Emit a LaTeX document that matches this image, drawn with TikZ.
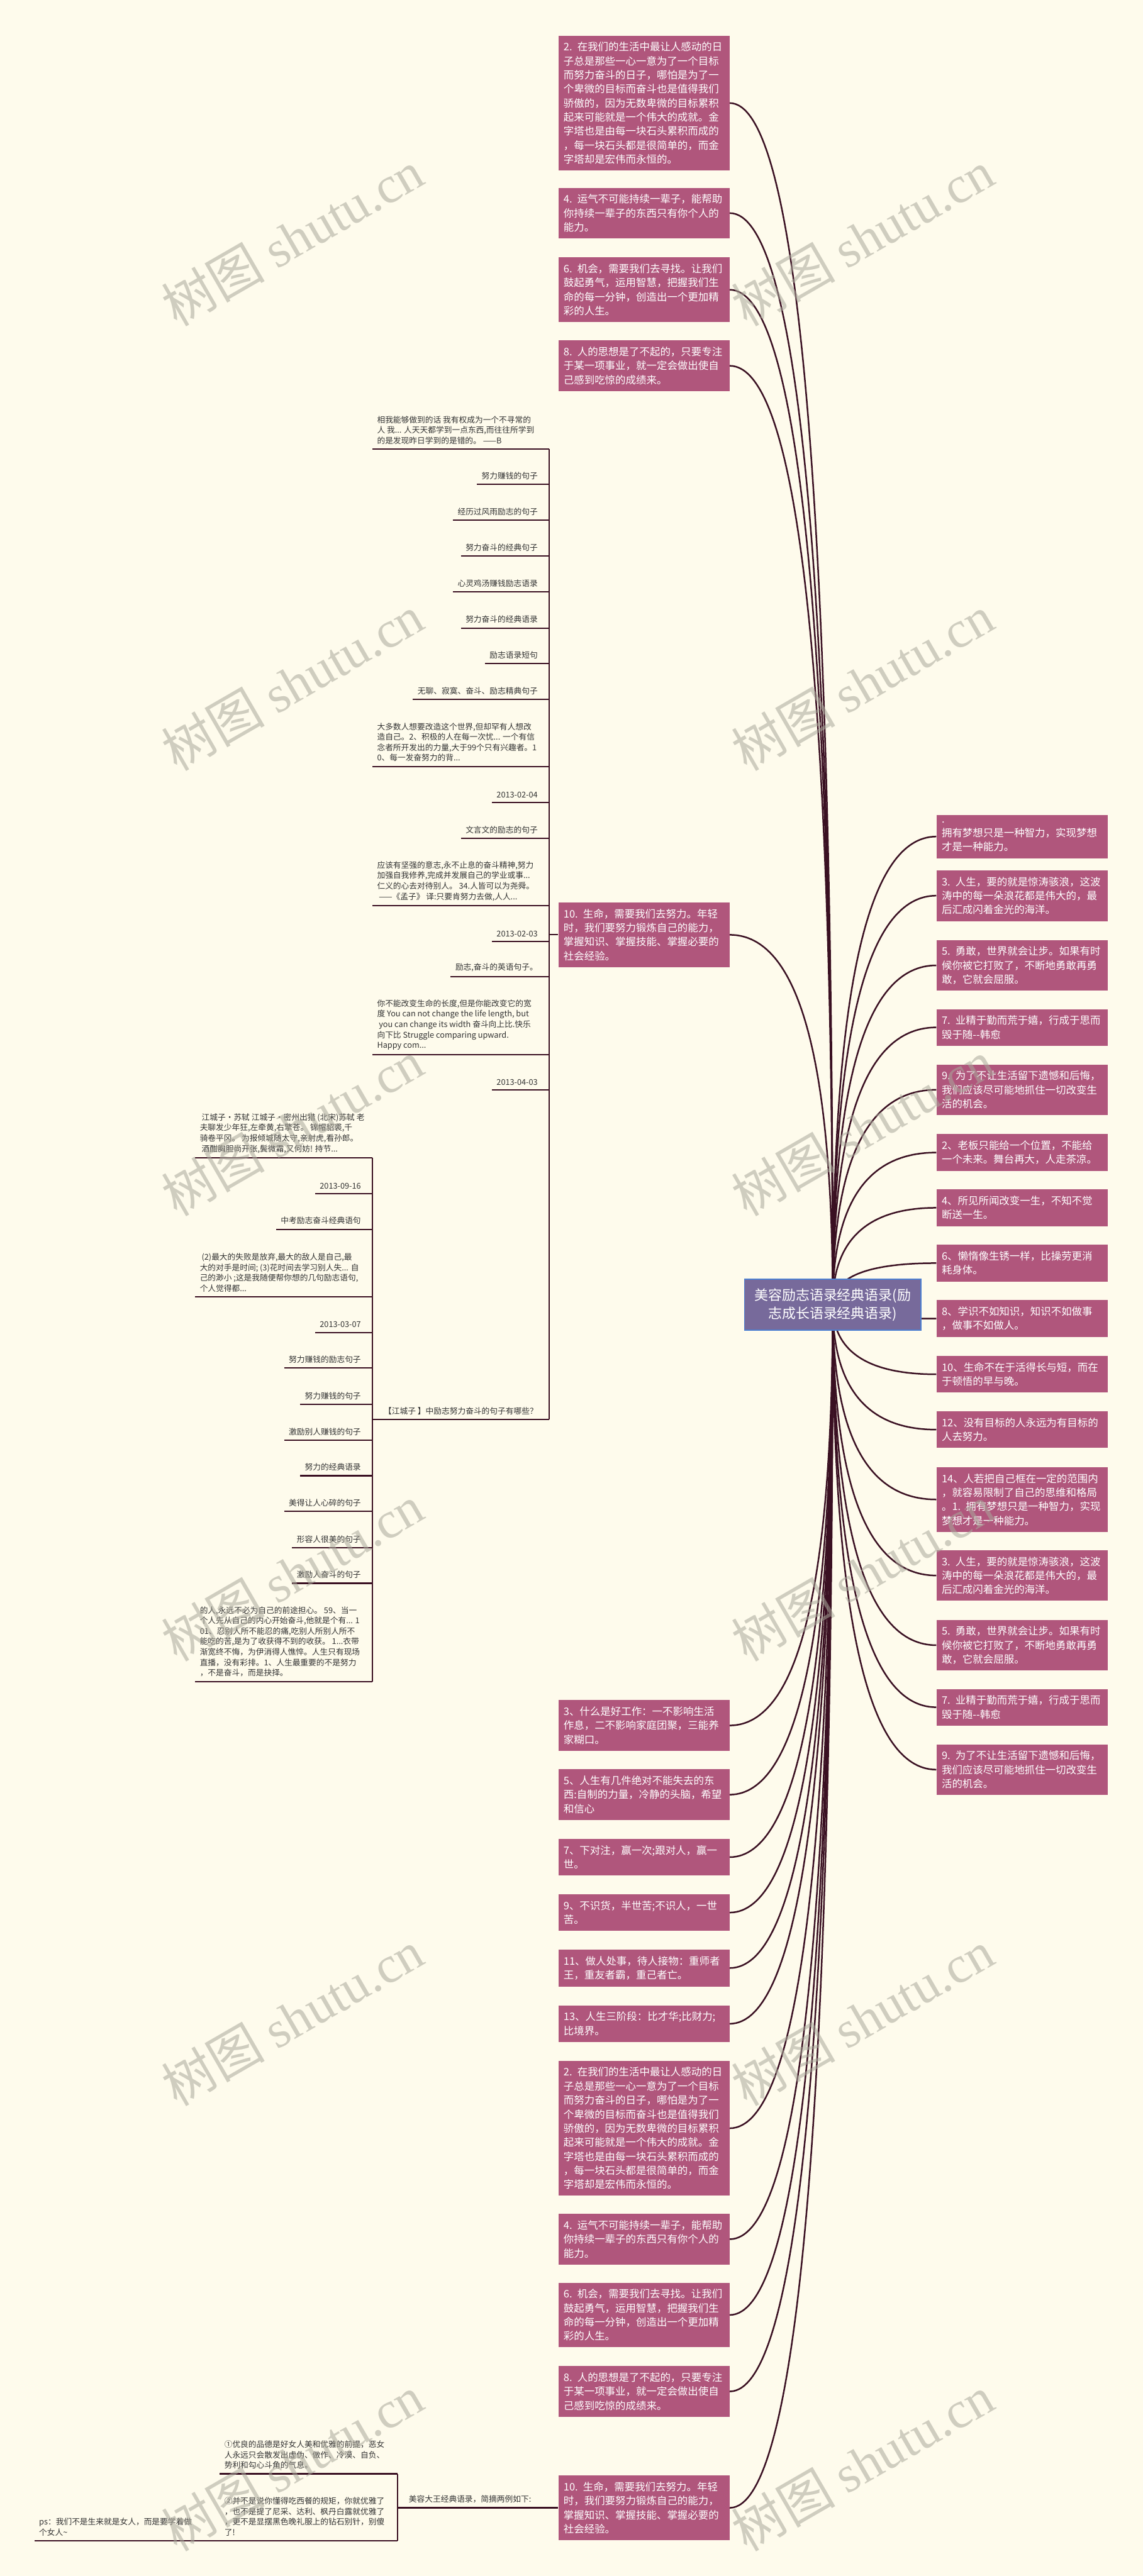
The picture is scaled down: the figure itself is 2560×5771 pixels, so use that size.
\documentclass[tikz,border=0pt]{standalone}
\usepackage{fontspec}
\setmainfont{Noto Sans CJK SC}
\newfontfamily\wmlatin{Liberation Serif}
\usepackage{tikz}
\usetikzlibrary{calc, backgrounds}
\definecolor{paper}{RGB}{254,251,236}
\definecolor{quotepurple}{RGB}{176,86,124}
\definecolor{rootviolet}{RGB}{119,106,155}
\definecolor{rootblue}{RGB}{77,127,209}
\definecolor{linkmaroon}{RGB}{58,16,34}
\definecolor{leafgray}{RGB}{51,51,51}
\definecolor{wmgray}{RGB}{170,168,155}
\newcommand\quotefont{\fontsize{6.6pt}{8.96pt}\selectfont}
\newcommand\leaffont{\fontsize{5.1pt}{6.65pt}\selectfont}
\newcommand\rootfont{\fontsize{8.8pt}{11.85pt}\selectfont}
% quotes that appear twice
\newcommand\qtwo{2. 在我们的生活中最让人感动的日\\子总是那些一心一意为了一个目标\\而努力奋斗的日子，哪怕是为了一\\个卑微的目标而奋斗也是值得我们\\骄傲的，因为无数卑微的目标累积\\起来可能就是一个伟大的成就。金\\字塔也是由每一块石头累积而成的\\，每一块石头都是很简单的，而金\\字塔却是宏伟而永恒的。}
\newcommand\qfour{4. 运气不可能持续一辈子，能帮助\\你持续一辈子的东西只有你个人的\\能力。}
\newcommand\qsix{6. 机会，需要我们去寻找。让我们\\鼓起勇气，运用智慧，把握我们生\\命的每一分钟，创造出一个更加精\\彩的人生。}
\newcommand\qeight{8. 人的思想是了不起的，只要专注\\于某一项事业，就一定会做出使自\\己感到吃惊的成绩来。}
\newcommand\qten{10. 生命，需要我们去努力。年轻\\时，我们要努力锻炼自己的能力，\\掌握知识、掌握技能、掌握必要的\\社会经验。}
\newcommand\qthree{3. 人生，要的就是惊涛骇浪，这波\\涛中的每一朵浪花都是伟大的，最\\后汇成闪着金光的海洋。}
\newcommand\qfive{5. 勇敢，世界就会让步。如果有时\\候你被它打败了，不断地勇敢再勇\\敢，它就会屈服。}
\newcommand\qseven{7. 业精于勤而荒于嬉，行成于思而\\毁于随-{}-韩愈}
\newcommand\qnine{9. 为了不让生活留下遗憾和后悔，\\我们应该尽可能地抓住一切改变生\\活的机会。}

\begin{document}
\begin{tikzpicture}[
    x=0.1mm, y=-0.1mm,
    rootbox/.style={rectangle, fill=rootviolet, draw=rootblue, line width=0.6pt, text=white, font=\rootfont, align=center, minimum width=39.5mm, minimum height=11.4mm},
    qbox/.style={rectangle, anchor=north west, fill=quotepurple, text=white, font=\quotefont, align=left, text width=36mm, inner xsep=1.15mm, inner ysep=1.45mm},
    leafitem/.style={font=\leaffont, text=leafgray, align=left, inner xsep=1mm, inner ysep=1mm},
    rleaf/.style={leafitem, anchor=south east},
    mleaf/.style={leafitem, anchor=south west},
    curvelink/.style={draw=linkmaroon, line width=1pt},
    stemline/.style={draw=linkmaroon, line width=0.85pt},
    wmark/.style={text=wmgray, opacity=0.55, rotate=30, font=\fontsize{33pt}{33pt}\selectfont}
]
\useasboundingbox (0,0) rectangle (2560,5771);

% Centre topic
\node[rootbox] (root) at (1865,2923) {美容励志语录经典语录(励\\志成长语录经典语录)};

% Quotes, upper left
\node[qbox] (a2) at (1250,79) {\qtwo};
\node[qbox] (a4) at (1250,420) {\qfour};
\node[qbox] (a6) at (1250,576) {\qsix};
\node[qbox] (a8) at (1250,762) {\qeight};
\node[qbox] (a10) at (1250,2021) {\qten};

% Quotes, lower left
\node[qbox] (b3) at (1250,3808) {3、什么是好工作：一不影响生活\\作息，二不影响家庭团聚，三能养\\家糊口。};
\node[qbox] (b5) at (1250,3963) {5、人生有几件绝对不能失去的东\\西:自制的力量，冷静的头脑，希望\\和信心};
\node[qbox] (b7) at (1250,4119) {7、下对注，赢一次;跟对人，赢一\\世。};
\node[qbox] (b9) at (1250,4243) {9、不识货，半世苦;不识人，一世\\苦。};
\node[qbox] (b11) at (1250,4367) {11、做人处事，待人接物：重师者\\王，重友者霸，重己者亡。};
\node[qbox] (b13) at (1250,4492) {13、人生三阶段：比才华;比财力;\\比境界。};
\node[qbox] (c2) at (1250,4616) {\qtwo};
\node[qbox] (c4) at (1250,4959) {\qfour};
\node[qbox] (c6) at (1250,5113) {\qsix};
\node[qbox] (c8) at (1250,5300) {\qeight};
\node[qbox] (c10) at (1250,5545) {\qten};

% Quotes, right
\node[qbox] (r1) at (2097,1825) {. 拥有梦想只是一种智力，实现梦想\\才是一种能力。};
\node[qbox] (r3) at (2097,1949) {\qthree};
\node[qbox] (r5) at (2097,2105) {\qfive};
\node[qbox] (r7) at (2097,2260) {\qseven};
\node[qbox] (r9) at (2097,2384) {\qnine};
\node[qbox] (s2) at (2097,2540) {2、老板只能给一个位置，不能给\\一个未来。舞台再大，人走茶凉。};
\node[qbox] (s4) at (2097,2664) {4、所见所闻改变一生，不知不觉\\断送一生。};
\node[qbox] (s6) at (2097,2788) {6、懒惰像生锈一样，比操劳更消\\耗身体。};
\node[qbox] (s8) at (2097,2912) {8、学识不如知识，知识不如做事\\，做事不如做人。};
\node[qbox] (s10) at (2097,3037) {10、生命不在于活得长与短，而在\\于顿悟的早与晚。};
\node[qbox] (s12) at (2097,3161) {12、没有目标的人永远为有目标的\\人去努力。};
\node[qbox] (s14) at (2097,3286) {14、人若把自己框在一定的范围内\\，就容易限制了自己的思维和格局\\。1. 拥有梦想只是一种智力，实现\\梦想才是一种能力。};
\node[qbox] (t3) at (2097,3472) {\qthree};
\node[qbox] (t5) at (2097,3628) {\qfive};
\node[qbox] (t7) at (2097,3783) {\qseven};
\node[qbox] (t9) at (2097,3907) {\qnine};

% Sentences under the upper 10.
\node[mleaf] (k1) at (834,1006) {相我能够做到的话 我有权成为一个不寻常的\\人 我... 人天天都学到一点东西,而往往所学到\\的是发现昨日学到的是错的。 ——B};
\node[rleaf] (k2) at (1215,1085) {努力赚钱的句子};
\node[rleaf] (k3) at (1215,1165) {经历过风雨励志的句子};
\node[rleaf] (k4) at (1215,1246) {努力奋斗的经典句子};
\node[rleaf] (k5) at (1215,1326) {心灵鸡汤赚钱励志语录};
\node[rleaf] (k6) at (1215,1407) {努力奋斗的经典语录};
\node[rleaf] (k7) at (1215,1487) {励志语录短句};
\node[rleaf] (k8) at (1215,1567) {无聊、寂寞、奋斗、励志精典句子};
\node[mleaf] (k9) at (834,1717) {大多数人想要改造这个世界,但却罕有人想改\\造自己。2、积极的人在每一次忧... 一个有信\\念者所开发出的力量,大于99个只有兴趣者。1\\0、每一发奋努力的背...};
\node[rleaf] (k10) at (1215,1798) {2013-02-04};
\node[rleaf] (k11) at (1215,1878) {文言文的励志的句子};
\node[mleaf] (k12) at (834,2029) {应该有坚强的意志,永不止息的奋斗精神,努力\\加强自我修养,完成并发展自己的学业或事...\\仁义的心去对待别人。 34.人皆可以为尧舜。\\~——《孟子》 译:只要肯努力去做,人人...};
\node[rleaf] (k13) at (1215,2109) {2013-02-03};
\node[rleaf] (k14) at (1215,2188) {励志,奋斗的英语句子。};
\node[mleaf] (k15) at (834,2363) {你不能改变生命的长度,但是你能改变它的宽\\度 You can not change the life length, but\\~you can change its width 奋斗向上比.快乐\\向下比 Struggle comparing upward.\\Happy com...};
\node[rleaf] (k16) at (1215,2442) {2013-04-03};
\node[rleaf] (k17) at (1215,3180) {【江城子 】中励志努力奋斗的句子有哪些？};

% Sentences under 江城子
\node[mleaf] (j1) at (437,2594) {~江城子·苏轼 江城子·密州出猎 (北宋)苏轼 老\\夫聊发少年狂,左牵黄,右擎苍。 锦帽貂裘,千\\骑卷平冈。 为报倾城随太守,亲射虎,看孙郎。\\~酒酣胸胆尚开张,鬓微霜,又何妨! 持节...};
\node[rleaf] (j2) at (819,2674) {2013-09-16};
\node[rleaf] (j3) at (819,2754) {中考励志奋斗经典语句};
\node[mleaf] (j4) at (437,2905) {~(2)最大的失败是放弃,最大的敌人是自己,最\\大的对手是时间; (3)花时间去学习别人失... 自\\己的渺小 ;这是我随便帮你想的几句励志语句,\\个人觉得都...};
\node[rleaf] (j5) at (819,2985) {2013-03-07};
\node[rleaf] (j6) at (819,3065) {努力赚钱的励志句子};
\node[rleaf] (j7) at (819,3146) {努力赚钱的句子};
\node[rleaf] (j8) at (819,3226) {激励别人赚钱的句子};
\node[rleaf] (j9) at (819,3306) {努力的经典语录};
\node[rleaf] (j10) at (819,3386) {美得让人心碎的句子};
\node[rleaf] (j11) at (819,3467) {形容人很美的句子};
\node[rleaf] (j12) at (819,3547) {激励人奋斗的句子};
\node[mleaf] (j13) at (437,3767) {的人,永远不必为自己的前途担心。 59、当一\\个人先从自己的内心开始奋斗,他就是个有... 1\\01、忍别人所不能忍的痛,吃别人所别人所不\\能吃的苦,是为了收获得不到的收获。 1...衣带\\渐宽终不悔，为伊消得人憔悴。人生只有现场\\直播，没有彩排。1、人生最重要的不是努力\\，不是奋斗，而是抉择。};

% Sentences under the lower 10.
\node[mleaf] (m0) at (905,5618) {美容大王经典语录，简摘两例如下:};
\node[mleaf] (m1) at (492,5542) {①优良的品德是好女人美和优雅的前提，恶女\\人永远只会散发出虚伪、做作、冷漠、自负、\\势利和勾心斗角的气息。};
\node[mleaf] (m2) at (492,5692) {②并不是说你懂得吃西餐的规矩，你就优雅了\\，也不是提了尼采、达利、枫丹白露就优雅了\\，更不是显摆黑色晚礼服上的钻石别针，别傻\\了!};
\node[mleaf] (ps) at (77,5692) {ps：我们不是生来就是女人，而是要学着做\\个女人\textasciitilde};

% Underlines and stems
\coordinate (ktop) at (1230,1006);
\coordinate (kbot) at (1230,3180);
\coordinate (jtop) at (834,2594);
\coordinate (jbot) at (834,3767);
\coordinate (mtop) at (890,5542);
\coordinate (mbot) at (890,5692);
\draw[stemline] (ktop) -- (kbot);
\draw[stemline] (jtop) -- (jbot);
\draw[stemline] (mtop) -- (mbot);
\draw[stemline] (a10.west) -- (a10.west -| ktop);
\foreach \k in {k1,k2,k3,k4,k5,k6,k7,k8,k9,k10,k11,k12,k13,k14,k15,k16}
    \draw[stemline] (\k.south west) -- (\k.south west -| ktop);
\draw[stemline] (k17.south west -| jtop) -- (k17.south west -| ktop);
\foreach \j in {j1,j2,j3,j4,j5,j6,j7,j8,j9,j10,j11,j12,j13}
    \draw[stemline] (\j.south west) -- (\j.south west -| jtop);
\draw[stemline] (m0.south west -| mtop) -- (m0.south west -| c10.west);
\foreach \m in {m1,m2}
    \draw[stemline] (\m.south west) -- (\m.south west -| mtop);
\draw[stemline] (ps.south west) -- (m2.south west);

% Curved links from the centre
\begin{scope}[on background layer]
    \fill[paper] (0,0) rectangle (2560,5771);
    \foreach \q in {a2,a4,a6,a8,a10,b3,b5,b7,b9,b11,b13,c2,c4,c6,c8,c10}
        \draw[curvelink] (root.center) .. controls ($(root.center)!0.667!(root.center |- \q.east)$) and ($(\q.east)!0.667!(root.center |- \q.east)$) .. (\q.east);
    \foreach \q in {r1,r3,r5,r7,r9,s2,s4,s6,s8,s10,s12,s14,t3,t5,t7,t9}
        \draw[curvelink] (root.center) .. controls ($(root.center)!0.667!(root.center |- \q.west)$) and ($(\q.west)!0.667!(root.center |- \q.west)$) .. (\q.west);
\end{scope}

% Watermarks
\foreach \y [count=\i] in {533,1530,2527,3524,4521,5518} {
    \node[wmark] (wl\i) at (655,\y) {树图 {\wmlatin shutu.cn}};
    \node[wmark] (wr\i) at (1932,\y) {树图 {\wmlatin shutu.cn}};
}
\end{tikzpicture}
\end{document}
